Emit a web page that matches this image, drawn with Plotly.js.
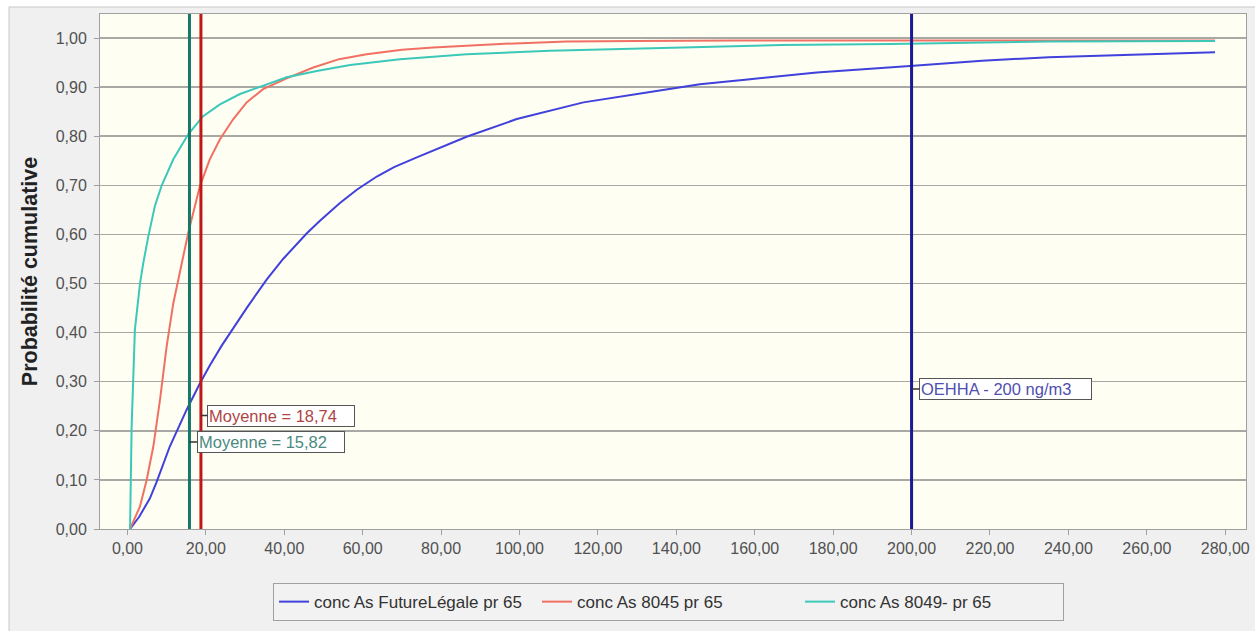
<!DOCTYPE html>
<html>
<head>
<meta charset="utf-8">
<script src="https://cdn.plot.ly/plotly-3.0.1.min.js"></script>
<style>html,body{margin:0;padding:0;background:#fff;}#chart{width:1255px;height:631px;}</style>
</head>
<body>
<div id="chart"></div>
<script>
// Series names
const seriesNames = ["conc As FutureLégale pr 65", "conc As 8045 pr 65", "conc As 8049- pr 65"];

// Blue: conc As FutureLégale pr 65
const blueX = [0.66, 3.0, 5.7, 7.4, 10.8, 15.1, 18.5, 21.0, 24.0, 27.0, 30.4, 35.5, 39.7, 45.7, 49.1, 54.2, 58.5, 63.6, 68.0, 73.8, 86.5, 99.3, 116.3, 133.3, 146, 158.8, 175.8, 199.6, 218, 235, 248, 262, 277.4];
const blueP = [0, 0.025, 0.062, 0.095, 0.168, 0.243, 0.297, 0.333, 0.373, 0.410, 0.450, 0.508, 0.550, 0.602, 0.628, 0.664, 0.691, 0.718, 0.737, 0.757, 0.799, 0.835, 0.869, 0.890, 0.906, 0.916, 0.930, 0.943, 0.954, 0.961, 0.964, 0.967, 0.971];

// Red: conc As 8045 pr 65
const redX = [0.66, 3.2, 4.9, 6.6, 8.3, 10.0, 11.7, 13.4, 15.5, 18.5, 21.0, 23.6, 27.0, 30.4, 34.6, 40.6, 47.4, 54, 61, 70, 78, 95, 112, 130, 155, 200, 277.4];
const redP = [0, 0.046, 0.10, 0.168, 0.263, 0.372, 0.46, 0.527, 0.603, 0.699, 0.753, 0.794, 0.835, 0.869, 0.896, 0.918, 0.940, 0.957, 0.967, 0.976, 0.981, 0.988, 0.993, 0.994, 0.995, 0.995, 0.995];

// Teal: conc As 8049- pr 65
const tealX = [0.66, 1.07, 1.9, 3.2, 4.0, 5.3, 7.0, 8.7, 11.7, 15.5, 19.3, 23.6, 28.7, 34.6, 40.6, 48.3, 56.8, 69.5, 86.5, 107.8, 129, 153, 167, 194.5, 235, 277.4];
const tealP = [0, 0.209, 0.406, 0.50, 0.54, 0.595, 0.658, 0.699, 0.753, 0.804, 0.841, 0.865, 0.886, 0.903, 0.920, 0.933, 0.945, 0.957, 0.967, 0.974, 0.978, 0.982, 0.986, 0.988, 0.993, 0.994];

// Reference lines
const refValues = [18.74, 15.82, 200];
const refLabels = ["Moyenne = 18,74", "Moyenne = 15,82", "OEHHA - 200 ng/m3"];
const refLabelY = [0.231, 0.177, 0.285];

// Axis ticks
const xTickVals = [0,20,40,60,80,100,120,140,160,180,200,220,240,260,280];
const yTickVals = [0,0.1,0.2,0.3,0.4,0.5,0.6,0.7,0.8,0.9,1.0];

const lineColors = ["#4040dc", "#f07064", "#3cc8b9"];
const refColors = ["#c01818", "#16786a", "#1a1a96"];
const refTextColors = ["#b04444", "#4a8a80", "#5050b0"];
const refAx = [80, 81.5, 94];
const refWidths = [144, 144, 169];

const traces = [
  {x: blueX, y: blueP, name: seriesNames[0], mode: "lines", line: {color: lineColors[0], width: 2}},
  {x: redX, y: redP, name: seriesNames[1], mode: "lines", line: {color: lineColors[1], width: 2}},
  {x: tealX, y: tealP, name: seriesNames[2], mode: "lines", line: {color: lineColors[2], width: 2}}
];

const shapes = refValues.map((v, i) => ({
  type: "line", xref: "x", yref: "paper", x0: v, x1: v, y0: 0, y1: 1,
  line: {color: refColors[i], width: 3}, layer: "above"
}));
// white page frame (top and left strip)
shapes.push({type: "rect", xref: "paper", yref: "paper", x0: -0.1, x1: 1.02, y0: 1.0136, y1: 1.05, fillcolor: "#ffffff", line: {width: 0}, layer: "below"});
shapes.push({type: "rect", xref: "paper", yref: "paper", x0: -0.1, x1: -0.0794, y0: -0.25, y1: 1.05, fillcolor: "#ffffff", line: {width: 0}, layer: "below"});
shapes.push({type: "line", xref: "paper", yref: "paper", x0: -0.0794, x1: 1.02, y0: 1.0136, y1: 1.0136, line: {color: "#c8c8c8", width: 1}, layer: "below"});
shapes.push({type: "line", xref: "paper", yref: "paper", x0: -0.0794, x1: -0.0794, y0: -0.25, y1: 1.0136, line: {color: "#c8c8c8", width: 1}, layer: "below"});

const annotations = refValues.map((v, i) => ({
  x: v, y: refLabelY[i], xref: "x", yref: "y",
  text: refLabels[i], showarrow: true, arrowhead: 0, arrowwidth: 1.5, arrowcolor: "#333333",
  ax: refAx[i], ay: 0, width: refWidths[i], align: "left",
  font: {family: "Liberation Sans, Arial, sans-serif", size: 16.5, color: refTextColors[i]},
  bgcolor: "#ffffff", bordercolor: "#555555", borderwidth: 1, borderpad: 1
}));

const layout = {
  width: 1255, height: 631,
  margin: {l: 100, r: 9, t: 14, b: 102},
  paper_bgcolor: "#f0f0f0",
  plot_bgcolor: "#fefef2",
  separators: ", ",
  showlegend: true,
  font: {family: "Liberation Sans, Arial, sans-serif", size: 16, color: "#505050"},
  xaxis: {
    range: [-7, 285.3], tickvals: xTickVals, tickformat: ".2f",
    showgrid: false, zeroline: false,
    showline: true, mirror: true, linecolor: "#a0a0a0", linewidth: 1,
    ticks: "outside", ticklen: 5, tickcolor: "#a0a0a0",
    tickfont: {size: 16, color: "#505050"}
  },
  yaxis: {
    range: [0, 1.049], tickvals: yTickVals, tickformat: ".2f",
    showgrid: true, gridcolor: "#a8a8a4", gridwidth: 1.5, zeroline: false,
    showline: true, mirror: true, linecolor: "#a0a0a0", linewidth: 1,
    ticks: "outside", ticklen: 5, tickcolor: "#a0a0a0", ticklabelstandoff: 4,
    tickfont: {size: 16, color: "#505050"},
    title: {text: "Probabilité cumulative", standoff: 12, font: {size: 21.5, color: "#222222", weight: "bold"}}
  },
  legend: {
    orientation: "h", x: 0.151, y: -0.105, xanchor: "left", yanchor: "top",
    bgcolor: "#f2f2f2", bordercolor: "#a0a0a0", borderwidth: 1,
    entrywidth: 218, itemwidth: 30,
    font: {size: 17, color: "#333333"}
  },
  shapes: shapes,
  annotations: annotations
};

Plotly.newPlot("chart", traces, layout, {staticPlot: true, displayModeBar: false});
</script>
</body>
</html>
